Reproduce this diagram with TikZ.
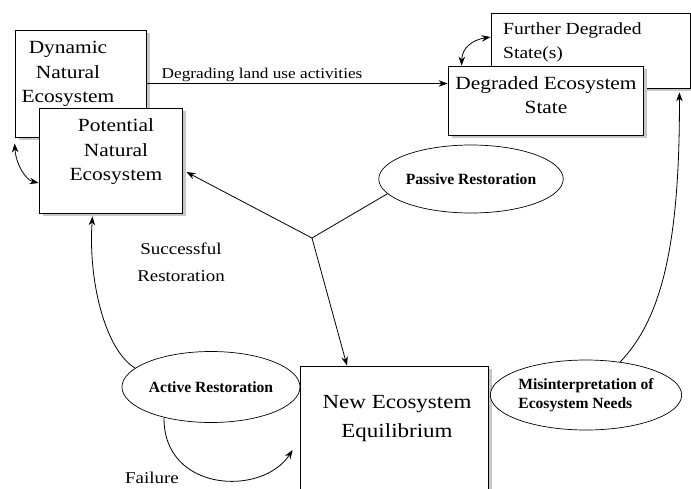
\documentclass[tikz,border=0pt]{standalone}
\usepackage{fontspec}
\setmainfont{Liberation Serif}
\newfontfamily\wfont{Liberation Serif}[FakeStretch=1.15]
\usetikzlibrary{shapes.geometric,shadows,arrows.meta}
\begin{document}
\begin{tikzpicture}[x=1pt,y=-1pt,
  box/.style={draw, fill=white, line width=0.8pt, inner sep=0pt,
    drop shadow={shadow xshift=4pt, shadow yshift=-3pt, fill=black!22, opacity=1}},
  oval/.style={draw, ellipse, fill=white, line width=0.7pt, inner sep=0pt, align=left,
    font=\bfseries\fontsize{15.6}{19}\selectfont},
  arr/.style={line width=0.8pt, -{Stealth[length=9pt,width=6.5pt]}},
  darr/.style={line width=0.8pt, {Stealth[length=9pt,width=6.5pt]}-{Stealth[length=9pt,width=6.5pt]}},
  plain/.style={line width=0.8pt},
  lbl/.style={align=center, inner sep=0pt},
  boxfont/.style={font=\wfont\fontsize{18.6}{24.5}\selectfont},
  capfont/.style={font=\wfont\fontsize{16.5}{27}\selectfont},
]
\useasboundingbox (0,0) rectangle (691,488);

% boxes
\node[box, minimum width=131pt, minimum height=107pt] (dyn) at (80.5,83.5) {};
\node[lbl, boxfont] (dynt) at (68,74) {Dynamic\\Natural\\Ecosystem};
\node[box, minimum width=143pt, minimum height=105pt] (pot) at (110.5,160.5) {};
\node[lbl, boxfont] (pott) at (116,152) {Potential\\Natural\\Ecosystem};

\node[box, minimum width=199pt, minimum height=75pt] (fur) at (590.5,50.5) {};
\node[lbl, font=\wfont\fontsize{17}{24}\selectfont, align=left, anchor=west] (furt) at (503,42) {Further Degraded\\State(s)};
\node[box, minimum width=195pt, minimum height=69pt] (deg) at (545.5,100.5) {};
\node[lbl, boxfont] (degt) at (546,95) {Degraded Ecosystem\\State};

\node[box, minimum width=188pt, minimum height=126pt] (new) at (394,429) {};
\node[lbl, font=\wfont\fontsize{20}{29}\selectfont] (newt) at (397,419) {New Ecosystem\\Equilibrium};

% ellipses
\node[oval, minimum width=153pt, minimum height=68pt] (pas) at (471,179) {Passive Restoration};
\node[oval, minimum width=178pt, minimum height=71pt] (act) at (211,387) {Active Restoration};
\node[oval, minimum width=183pt, minimum height=70pt] (mis) at (586,395) {Misinterpretation of\\Ecosystem Needs};

% connectors
\draw[arr] (dyn.east) -- node[pos=0.384, above=1pt, inner sep=0pt, font=\wfont\fontsize{15}{18}\selectfont] {Degrading land use activities} (deg.west |- dyn.east);

\coordinate (j) at (312,238);
\draw[plain] (pas.190) -- (j);
\draw[arr] (j) -- ([xshift=4pt,yshift=-11.5pt]pot.east);
\draw[arr] (j) -- ([xshift=-47pt]new.north);

\draw[arr] (act.166) .. controls (105,350) and (88,280) .. ([xshift=-18pt,yshift=-3pt]pot.south);
\node[lbl, capfont] (suc) at (181,262) {Successful\\Restoration};

\draw[arr] (act.213) .. controls (163,492) and (262,497) .. ([xshift=-7pt,yshift=-21pt]new.west);
\node[lbl, capfont] (fail) at (152,478) {Failure};

\draw[arr] (mis.44) .. controls (660,320) and (680,250) .. ([xshift=-11pt,yshift=-4pt]fur.south east);

\draw[darr] ([yshift=-6pt]dyn.south west) .. controls (16,165) and (26,180) .. ([yshift=-22.5pt]pot.west);
\draw[darr] ([xshift=14pt]deg.north west) .. controls (462,48) and (472,40) .. ([yshift=13.5pt]fur.west);
\end{tikzpicture}
\end{document}
